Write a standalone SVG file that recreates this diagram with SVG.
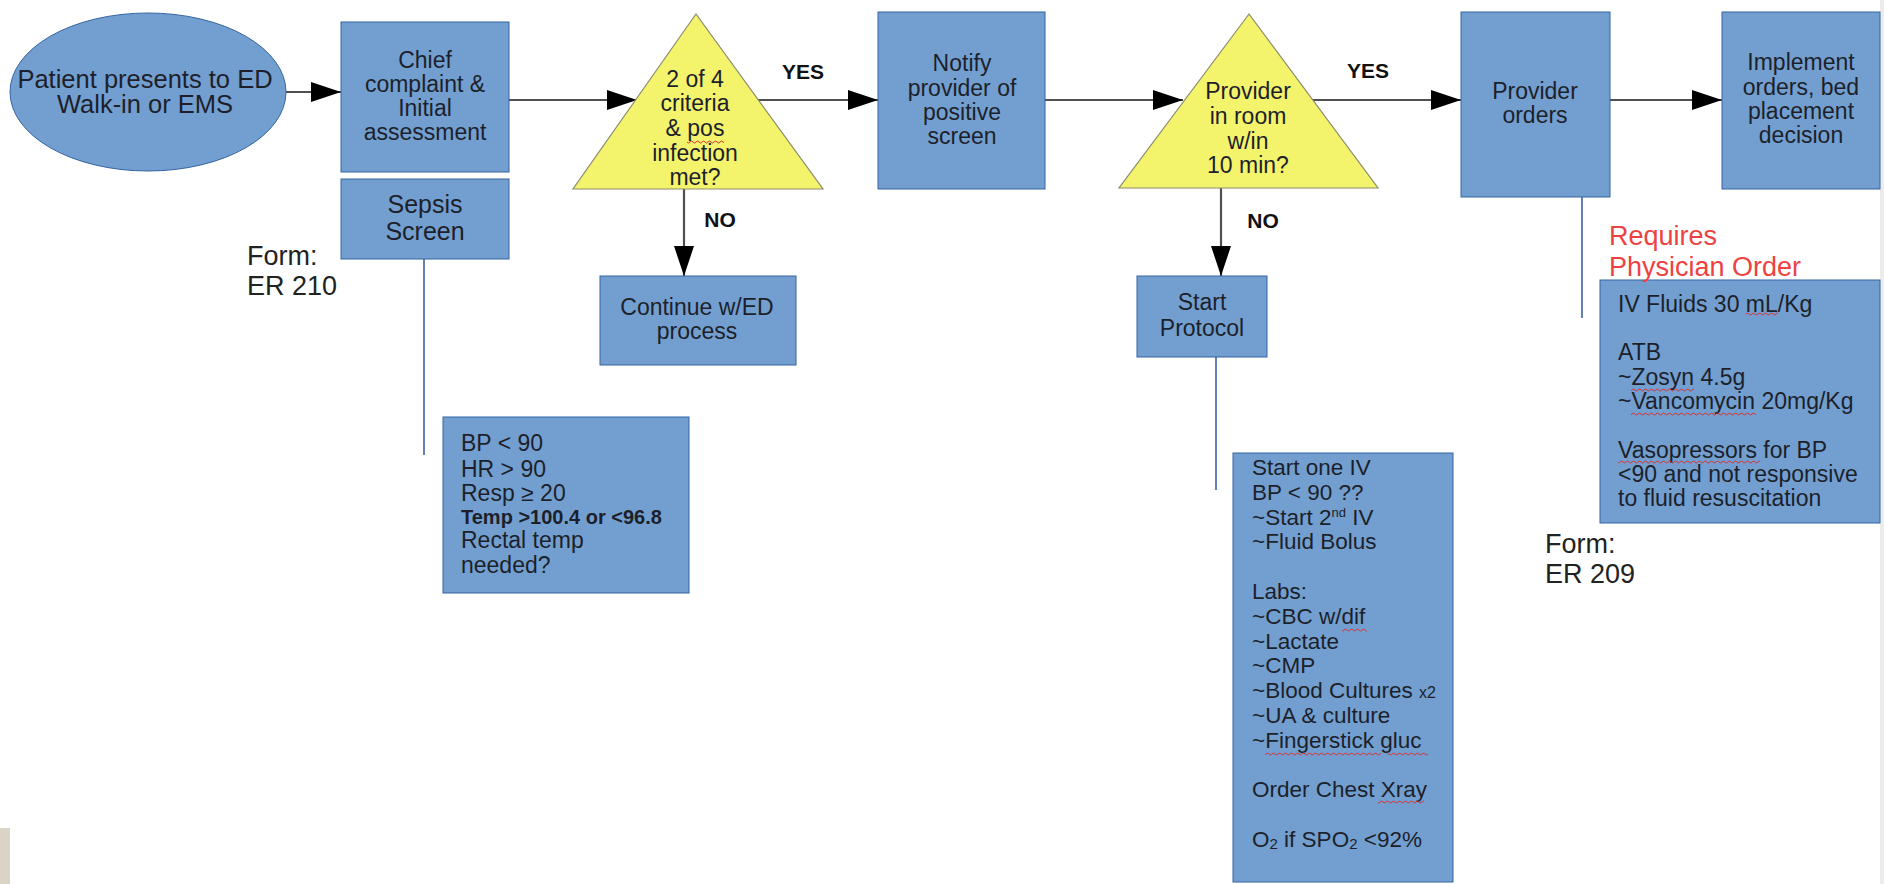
<svg xmlns="http://www.w3.org/2000/svg" width="1884" height="884" viewBox="0 0 1884 884">
<defs>
<style>
.box{fill:#729fcf;stroke:#3465a4;stroke-width:1}
.dec{fill:#f4f46c;stroke:#8c8c6e;stroke-width:1.2}
.t{font-family:"Liberation Sans",Arial,sans-serif;font-size:23px;fill:#1d1f2b}
.m{text-anchor:middle}
.lbl{font-family:"Liberation Sans",Arial,sans-serif;font-size:21px;font-weight:bold;fill:#111;text-anchor:middle}
.form{font-family:"Liberation Sans",Arial,sans-serif;font-size:27px;fill:#222}
.req{font-family:"Liberation Sans",Arial,sans-serif;font-size:27px;fill:#ee4242}
.flow{fill:none;stroke:#505050;stroke-width:2.2}
.note{fill:none;stroke:#3b63a0;stroke-width:1.6}
.wave{fill:url(#wave)}
</style>
<marker id="ah" markerUnits="userSpaceOnUse" markerWidth="31" markerHeight="21" refX="30" refY="10" orient="auto" viewBox="0 0 31 21"><path d="M0 0 L30 10 L0 20 Z" fill="#000"/></marker>
<pattern id="wave" patternUnits="userSpaceOnUse" width="6" height="4"><path d="M0 2 Q1.5 0 3 2 T6 2" fill="none" stroke="#d8302e" stroke-width="1"/></pattern>
</defs>
<rect x="0" y="0" width="1884" height="884" fill="#fff"/>
<rect x="1880" y="0" width="4" height="884" fill="#ececec"/>
<rect x="0" y="828" width="10" height="56" fill="#dad4c6"/>

<g id="connectors">
<path class="flow" d="M286 92 H341" marker-end="url(#ah)"/>
<path class="flow" d="M509 100 H637" marker-end="url(#ah)"/>
<path class="flow" d="M758 100 H878" marker-end="url(#ah)"/>
<path class="flow" d="M684 189 V276" marker-end="url(#ah)"/>
<path class="flow" d="M1045 100 H1183" marker-end="url(#ah)"/>
<path class="flow" d="M1312 100 H1461" marker-end="url(#ah)"/>
<path class="flow" d="M1221 188 V276" marker-end="url(#ah)"/>
<path class="flow" d="M1610 100 H1722" marker-end="url(#ah)"/>
<path class="note" d="M424 259 V455"/>
<path class="note" d="M1216 357 V490"/>
<path class="note" d="M1582 197 V318"/>
<text class="lbl" x="803" y="79">YES</text>
<text class="lbl" x="720" y="227">NO</text>
<text class="lbl" x="1368" y="78">YES</text>
<text class="lbl" x="1263" y="228">NO</text>
</g>

<g id="start">
<ellipse class="box" cx="148" cy="92" rx="138" ry="79"/>
<text class="t m" style="font-size:25.5px"><tspan x="145" y="88">Patient presents to ED</tspan><tspan x="145" y="113">Walk-in or EMS</tspan></text>
</g>

<g id="chief">
<rect class="box" x="341" y="22" width="168" height="150"/>
<text class="t m"><tspan x="425" y="68">Chief</tspan><tspan x="425" y="92">complaint &amp;</tspan><tspan x="425" y="116">Initial</tspan><tspan x="425" y="140">assessment</tspan></text>
</g>

<g id="sepsis">
<rect class="box" x="341" y="179" width="168" height="80"/>
<text class="t m" style="font-size:25px"><tspan x="425" y="213">Sepsis</tspan><tspan x="425" y="240">Screen</tspan></text>
</g>

<g id="form210">
<text class="form"><tspan x="247" y="265">Form:</tspan><tspan x="247" y="295">ER 210</tspan></text>
</g>

<g id="criteria">
<rect class="box" x="443" y="417" width="246" height="176"/>
<text class="t"><tspan x="461" y="451">BP &lt; 90</tspan><tspan x="461" y="477">HR &gt; 90</tspan><tspan x="461" y="501">Resp ≥ 20</tspan><tspan x="461" y="524" style="font-weight:bold;font-size:20px">Temp &gt;100.4 or &lt;96.8</tspan><tspan x="461" y="548">Rectal temp</tspan><tspan x="461" y="573">needed?</tspan></text>
</g>

<g id="decision1">
<polygon class="dec" points="696,14 573,189 823,189"/>
<text class="t m"><tspan x="695" y="87">2 of 4</tspan><tspan x="695" y="111">criteria</tspan><tspan x="695" y="136">&amp; pos</tspan><tspan x="695" y="161">infection</tspan><tspan x="695" y="185">met?</tspan></text>
<rect class="wave" x="687" y="140" width="37" height="4"/>
</g>

<g id="continue">
<rect class="box" x="600" y="276" width="196" height="89"/>
<text class="t m"><tspan x="697" y="315">Continue w/ED</tspan><tspan x="697" y="339">process</tspan></text>
</g>

<g id="notify">
<rect class="box" x="878" y="12" width="167" height="177"/>
<text class="t m"><tspan x="962" y="71">Notify</tspan><tspan x="962" y="96">provider of</tspan><tspan x="962" y="120">positive</tspan><tspan x="962" y="144">screen</tspan></text>
</g>

<g id="decision2">
<polygon class="dec" points="1249,14 1119,188 1378,188"/>
<text class="t m"><tspan x="1248" y="99">Provider</tspan><tspan x="1248" y="124">in room</tspan><tspan x="1248" y="149">w/in</tspan><tspan x="1248" y="173">10 min?</tspan></text>
</g>

<g id="protocol">
<rect class="box" x="1137" y="276" width="130" height="81"/>
<text class="t m"><tspan x="1202" y="310">Start</tspan><tspan x="1202" y="336">Protocol</tspan></text>
</g>

<g id="protocol-steps">
<rect class="box" x="1233" y="453" width="220" height="429"/>
<text class="t" style="font-size:22.5px"><tspan x="1252" y="475">Start one IV</tspan><tspan x="1252" y="500">BP &lt; 90 ??</tspan><tspan x="1252" y="525">~Start 2<tspan style="font-size:13px" dy="-8">nd</tspan><tspan dy="8"> IV</tspan></tspan><tspan x="1252" y="549">~Fluid Bolus</tspan><tspan x="1252" y="599">Labs:</tspan><tspan x="1252" y="624">~CBC w/dif</tspan><tspan x="1252" y="649">~Lactate</tspan><tspan x="1252" y="673">~CMP</tspan><tspan x="1252" y="698">~Blood Cultures <tspan style="font-size:16px">x2</tspan></tspan><tspan x="1252" y="723">~UA &amp; culture</tspan><tspan x="1252" y="748">~Fingerstick gluc</tspan><tspan x="1252" y="797">Order Chest Xray</tspan><tspan x="1252" y="847">O<tspan style="font-size:15px" dy="2">2</tspan><tspan dy="-2"> if SPO</tspan><tspan style="font-size:15px" dy="2">2</tspan><tspan dy="-2"> &lt;92%</tspan></tspan></text>
<rect class="wave" x="1342" y="628" width="25" height="4"/>
<rect class="wave" x="1265" y="752" width="116" height="4"/>
<rect class="wave" x="1387" y="752" width="41" height="4"/>
<rect class="wave" x="1378" y="800" width="46" height="4"/>
</g>

<g id="provider">
<rect class="box" x="1461" y="12" width="149" height="185"/>
<text class="t m"><tspan x="1535" y="99">Provider</tspan><tspan x="1535" y="123">orders</tspan></text>
</g>

<g id="implement">
<rect class="box" x="1722" y="12" width="158" height="177"/>
<text class="t m"><tspan x="1801" y="70">Implement</tspan><tspan x="1801" y="95">orders, bed</tspan><tspan x="1801" y="119">placement</tspan><tspan x="1801" y="143">decision</tspan></text>
</g>

<g id="physician-orders">
<rect class="box" x="1600" y="280" width="280" height="243"/>
<text class="req"><tspan x="1609" y="245">Requires</tspan><tspan x="1609" y="276">Physician Order</tspan></text>
<text class="t"><tspan x="1618" y="312">IV Fluids 30 mL/Kg</tspan><tspan x="1618" y="360">ATB</tspan><tspan x="1618" y="385">~Zosyn 4.5g</tspan><tspan x="1618" y="409">~Vancomycin 20mg/Kg</tspan><tspan x="1618" y="458">Vasopressors for BP</tspan><tspan x="1618" y="482">&lt;90 and not responsive</tspan><tspan x="1618" y="506">to fluid resuscitation</tspan></text>
<rect class="wave" x="1746" y="312" width="32" height="4"/>
<rect class="wave" x="1631" y="388" width="63" height="4"/>
<rect class="wave" x="1631" y="412" width="125" height="4"/>
<rect class="wave" x="1618" y="460" width="142" height="4"/>
</g>

<g id="form209">
<text class="form"><tspan x="1545" y="553">Form:</tspan><tspan x="1545" y="583">ER 209</tspan></text>
</g>
</svg>
